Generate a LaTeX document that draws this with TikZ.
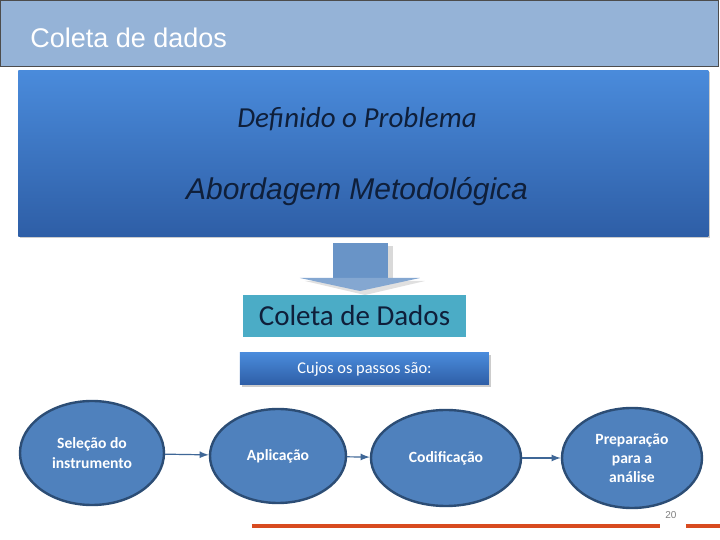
\documentclass[tikz,border=0pt]{standalone}
\usepackage{fontspec}
\setmainfont{Carlito}
\newfontfamily\arial{Liberation Sans}
\usetikzlibrary{shadows,shapes.geometric}
\definecolor{hdr}{HTML}{95B3D7}
\definecolor{bluetop}{HTML}{4A8BDB}
\definecolor{bluebot}{HTML}{2E5EA6}
\definecolor{teal}{HTML}{4BACC6}
\definecolor{ell}{HTML}{4F81BD}
\definecolor{elld}{HTML}{2C4D75}
\definecolor{redl}{HTML}{D84B20}
\definecolor{txtd}{HTML}{0F1F3A}
\tikzset{
  ellnode/.style={ellipse,draw=elld,line width=1.2pt,fill=ell,text=white,font=\fontsize{7.8}{9.6}\selectfont\bfseries,align=center,inner sep=0},
  conn/.style={draw=ell!80!black,line width=0.6pt,-latex},
  gradbox/.style={top color=bluetop,bottom color=bluebot,drop shadow={opacity=0.4,shadow xshift=1pt,shadow yshift=-1pt}}
}
\begin{document}
\begin{tikzpicture}[x=0.5pt,y=-0.5pt]
\useasboundingbox (0,0) rectangle (720,540);
\fill[white] (0,0) rectangle (720,540);
\node[draw=black!70,fill=hdr,minimum width=359pt,minimum height=33pt,anchor=north west,inner sep=0] (hdr) at (0,0) {};
\node[anchor=west,inner sep=0,text=white,font=\arial\fontsize{13.5}{15}\selectfont] (title) at (30,38) {Coleta de dados};
\node[gradbox,minimum width=345pt,minimum height=83pt,anchor=north west,inner sep=0] (big) at (18,70) {};
\node[text=txtd,font=\itshape\fontsize{14.5}{17}\selectfont] (def) at (357,119) {Definido o Problema};
\node[text=txtd,font=\arial\itshape\fontsize{15}{18}\selectfont] (abo) at (357,192) {Abordagem Metodológica};
\fill[black!15] (338,246) rectangle (393,280);
\fill[black!12] (305,281) -- (425,281) -- (365,295) -- cycle;
\fill[ell!85!white] (333,243) rectangle (388,278);
\fill[ell!70!white] (300,278) -- (420,278) -- (360,291) -- cycle;
\node[fill=teal,minimum width=111.5pt,minimum height=21pt,text=txtd,font=\fontsize{14.5}{16}\selectfont,inner sep=0] (coleta) at (354.5,316) {Coleta de Dados};
\node[gradbox,minimum width=124.5pt,minimum height=16pt,text=white,font=\fontsize{8.2}{9}\selectfont,inner sep=0] (cujos) at (364.5,369) {Cujos os passos são:};
\node[ellnode,minimum width=72pt,minimum height=52pt] (e1) at (92,453) {Seleção do\\instrumento};
\node[ellnode,minimum width=68pt,minimum height=47pt] (e2) at (278,456) {Aplicação};
\node[ellnode,minimum width=75pt,minimum height=48pt] (e3) at (446,458) {Codificação};
\node[ellnode,minimum width=70pt,minimum height=50pt] (e4) at (632,458) {Preparação\\para a\\análise};
\draw[conn] (e1) -- (e2);
\draw[conn] (e2) -- (e3);
\draw[conn] (e3) -- (e4);
\coordinate (r1) at (252,526); \coordinate (r2) at (660,526);
\coordinate (r3) at (686,526); \coordinate (r4) at (720,526);
\draw[redl,line width=2pt] (r1) -- (r2) (r3) -- (r4);
\node[text=black!50,font=\arial\fontsize{5}{6}\selectfont] (pg) at (671,515) {20};
\end{tikzpicture}
\end{document}
